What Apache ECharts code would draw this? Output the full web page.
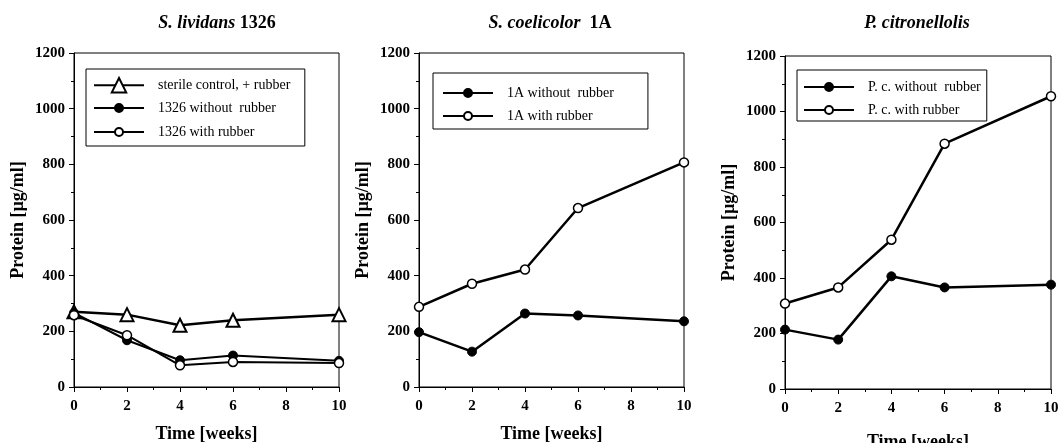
<!DOCTYPE html>
<html>
<head>
<meta charset="utf-8">
<script src="https://cdn.jsdelivr.net/npm/echarts@6/dist/echarts.min.js"></script>
<style>html,body{margin:0;padding:0;background:#fff}#c{width:1060px;height:443px}</style>
</head>
<body>
<div id="c"></div>
<script>
const weeks = [0, 2, 4, 6, 10];
const xTicks = [0, 2, 4, 6, 8, 10];
const yTicks = [0, 200, 400, 600, 800, 1000, 1200];

// Panel 1: S. lividans 1326
const sterileControl = [270, 260, 222, 240, 260];
const liv1326Without = [266, 168, 96, 113, 94];
const liv1326With = [258, 186, 78, 90, 86];

// Panel 2: S. coelicolor 1A
const coe1AWithout = [197, 127, 264, 257, 236];
const coe1AWith = [288, 371, 422, 643, 807];

// Panel 3: P. citronellolis
const pcWithout = [214, 178, 406, 366, 376];
const pcWith = [308, 366, 538, 884, 1055];

const FONT = 'Liberation Serif';
const pairs = a => weeks.map((w, i) => [w, a[i]]);

const grids = [
  {left: 74, top: 53, width: 265, height: 334},
  {left: 419, top: 53, width: 265, height: 334},
  {left: 785, top: 56, width: 266, height: 333}
];

const xAxes = grids.map((g, i) => ({
  type: 'value', gridIndex: i, min: xTicks[0], max: xTicks[xTicks.length - 1], interval: xTicks[1] - xTicks[0],
  name: 'Time [weeks]', nameLocation: 'middle', nameGap: i === 2 ? 44 : 38,
  nameTextStyle: {fontFamily: FONT, fontWeight: 'bold', fontSize: 18, color: '#000'},
  axisLine: {lineStyle: {color: '#000', width: 1}},
  axisTick: {length: 5, lineStyle: {color: '#000'}},
  minorTick: {show: true, splitNumber: 2, length: 3, lineStyle: {color: '#000'}},
  splitLine: {show: false},
  axisLabel: {fontFamily: FONT, fontWeight: 'bold', fontSize: 15, color: '#000', margin: 12,
    formatter: v => String(v)}
}));

const yAxes = grids.map((g, i) => ({
  type: 'value', gridIndex: i, min: yTicks[0], max: yTicks[yTicks.length - 1], interval: yTicks[1] - yTicks[0],
  name: 'Protein [µg/ml]', nameLocation: 'middle', nameGap: 47,
  nameTextStyle: {fontFamily: FONT, fontWeight: 'bold', fontSize: 18, color: '#000'},
  axisLine: {show: true, lineStyle: {color: '#000', width: 1}},
  axisTick: {show: true, length: 5, lineStyle: {color: '#000'}},
  minorTick: {show: true, splitNumber: 2, length: 3, lineStyle: {color: '#000'}},
  splitLine: {show: false},
  axisLabel: {fontFamily: FONT, fontWeight: 'bold', fontSize: 15, color: '#000', margin: 9,
    formatter: v => String(v)}
}));

function lineSeries(name, data, idx, kind, lw) {
  const s = {
    name: name, type: 'line', xAxisIndex: idx, yAxisIndex: idx,
    data: pairs(data), lineStyle: {color: '#000', width: lw || 2.5},
    animation: false, z: 3
  };
  if (kind === 'tri') {
    s.symbol = 'triangle'; s.symbolSize = 13;
    s.itemStyle = {color: '#fff', borderColor: '#000', borderWidth: 2};
  } else if (kind === 'open') {
    s.symbol = 'circle'; s.symbolSize = 9;
    s.itemStyle = {color: '#fff', borderColor: '#000', borderWidth: 1.5};
  } else {
    s.symbol = 'circle'; s.symbolSize = 9;
    s.itemStyle = {color: '#000', borderColor: '#000', borderWidth: 1};
  }
  return s;
}

const series = [
  lineSeries('sterile control, + rubber', sterileControl, 0, 'tri', 2.5),
  lineSeries('1326 without  rubber', liv1326Without, 0, 'fill', 2),
  lineSeries('1326 with rubber', liv1326With, 0, 'open', 2),
  lineSeries('1A without  rubber', coe1AWithout, 1, 'fill', 2.5),
  lineSeries('1A with rubber', coe1AWith, 1, 'open', 2.5),
  lineSeries('P. c. without  rubber', pcWithout, 2, 'fill', 2.5),
  lineSeries('P. c. with rubber', pcWith, 2, 'open', 2.5)
];

const legendBase = {
  orient: 'vertical', borderColor: '#000', borderWidth: 1, backgroundColor: '#fff',
  itemWidth: 50, itemHeight: 10, itemGap: 9, selectedMode: false,
  textStyle: {fontFamily: FONT, fontSize: 14, color: '#000', padding: [0, 0, 0, 9]}
};

const legends = [
  // boxed legend for panel 1 (top padding leaves room for the triangle row)
  Object.assign({}, legendBase, {left: 86, top: 69, padding: [32, 29, 7, 7], itemGap: 10, z: 4,
    data: ['1326 without  rubber', '1326 with rubber']}),
  // triangle row, drawn with a larger symbol inside the same box
  Object.assign({}, legendBase, {left: 93, top: 77, padding: 0, itemHeight: 18,
    borderWidth: 0, backgroundColor: 'transparent', z: 5,
    data: ['sterile control, + rubber']}),
  Object.assign({}, legendBase, {left: 433, top: 73, padding: [13, 34, 6, 9],
    data: ['1A without  rubber', '1A with rubber']}),
  Object.assign({}, legendBase, {left: 797, top: 70, padding: [10, 6, 4, 6],
    data: ['P. c. without  rubber', 'P. c. with rubber']})
];

const titleRich = {
  i: {fontFamily: FONT, fontStyle: 'italic', fontWeight: 'bold', fontSize: 18, fill: '#000'},
  b: {fontFamily: FONT, fontWeight: 'bold', fontSize: 18, fill: '#000'}
};
const titles = [
  {x: 217, text: '{i|S. lividans} {b|1326}'},
  {x: 550, text: '{i|S. coelicolor}  {b|1A}'},
  {x: 917, text: '{i|P. citronellolis}'}
];

const chart = echarts.init(document.getElementById('c'), null, {renderer: 'canvas'});
chart.setOption({
  backgroundColor: '#fff',
  animation: false,
  grid: grids.map(g => Object.assign({show: true, borderColor: '#000', borderWidth: 1,
    backgroundColor: 'transparent', containLabel: false, outerBoundsMode: 'none'}, g)),
  xAxis: xAxes,
  yAxis: yAxes,
  legend: legends,
  series: series,
  graphic: titles.map(t => ({
    type: 'text', x: t.x, y: 23,
    style: {text: t.text, rich: titleRich, align: 'center', verticalAlign: 'middle',
      font: 'bold 18px ' + FONT, fill: '#000'}
  }))
});
</script>
</body>
</html>
